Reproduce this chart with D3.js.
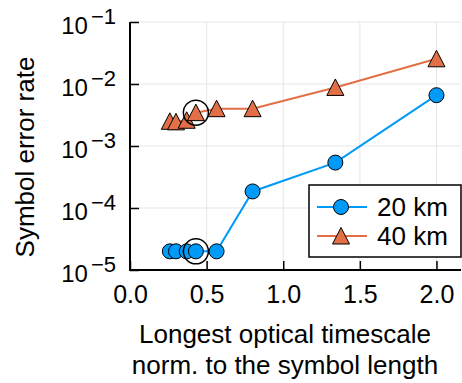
<!DOCTYPE html>
<html>
<head>
<meta charset="utf-8">
<script src="https://cdn.jsdelivr.net/npm/d3@7"></script>
<style>
  body { margin: 0; background: #fff; }
  svg { display: block; font-family: "Liberation Sans", Arial, sans-serif; }
</style>
</head>
<body>
<div id="chart"></div>
<script>
// data
const xVals = [0.26, 0.30, 0.37, 0.43, 0.565, 0.80, 1.34, 2.0];
const ser20 = [2.0e-5, 2.0e-5, 2.0e-5, 2.0e-5, 2.0e-5, 1.85e-4, 5.4e-4, 6.6e-3];
const ser40 = [2.5e-3, 2.45e-3, 2.6e-3, 3.45e-3, 4.0e-3, 4.0e-3, 8.8e-3, 2.55e-2];
const seriesNames = ['20 km', '40 km'];
const xTicks = [0.0, 0.5, 1.0, 1.5, 2.0];
const yExps = [-1, -2, -3, -4, -5];
const highlightX = [0.43, 0.43];
const highlightY = [2.0e-5, 3.45e-3];

const width = 462, height = 383;
const dims = { left: 130, right: 461, top: 22, bottom: 270 };

const svg = d3.select('#chart').append('svg')
    .attr('width', width)
    .attr('height', height);

const xScale = d3.scaleLinear()
    .domain([0, 2.16])
    .range([dims.left, dims.right]);

const yScale = d3.scaleLog()
    .domain([1e-5, 1e-1])
    .range([dims.bottom, dims.top]);

// grid
const grid = svg.append('g');
xTicks.filter(d => d > 0).forEach(t => {
    grid.append('line')
        .attr('x1', xScale(t)).attr('x2', xScale(t))
        .attr('y1', dims.top).attr('y2', dims.bottom)
        .attr('stroke', '#e6e6e6').attr('stroke-width', 1);
});
yExps.forEach(e => {
    grid.append('line')
        .attr('x1', dims.left).attr('x2', dims.right)
        .attr('y1', yScale(Math.pow(10, e))).attr('y2', yScale(Math.pow(10, e)))
        .attr('stroke', '#e6e6e6').attr('stroke-width', 1);
});

// axes
let xAxisGenerator = d3.axisBottom(xScale)
    .tickValues(xTicks)
    .tickSize(-9)
    .tickFormat(d3.format('.1f'));

let xAxis = svg.append('g')
    .attr('transform', `translate(0,${dims.bottom})`)
    .call(xAxisGenerator);
xAxis.select('.domain').remove();
xAxis.selectAll('.tick line').attr('stroke', '#000').attr('stroke-width', 1.5);
xAxis.selectAll('.tick text')
    .attr('y', 33)
    .attr('dy', 0)
    .style('font-size', '25px')
    .style('font-family', '"Liberation Sans", Arial, sans-serif')
    .attr('fill', '#000');

let yAxisGenerator = d3.axisLeft(yScale)
    .tickValues(yExps.map(e => Math.pow(10, e)))
    .tickSize(-9)
    .tickFormat('');

let yAxis = svg.append('g')
    .attr('transform', `translate(${dims.left},0)`)
    .call(yAxisGenerator);
yAxis.select('.domain').remove();
yAxis.selectAll('.tick line').attr('stroke', '#000').attr('stroke-width', 1.5);

// y tick labels as 10^n
yExps.forEach(e => {
    const t = svg.append('text')
        .attr('x', 116)
        .attr('y', yScale(Math.pow(10, e)) + 12)
        .attr('text-anchor', 'end')
        .style('font-size', '24px')
        .attr('fill', '#000');
    t.append('tspan').text('10');
    t.append('tspan')
        .attr('dy', -10)
        .attr('dx', 3)
        .style('font-size', '22px')
        .text('\u2212' + Math.abs(e));
});

// spines
svg.append('line')
    .attr('x1', dims.left).attr('x2', dims.left)
    .attr('y1', dims.top).attr('y2', dims.bottom + 1)
    .attr('stroke', '#000').attr('stroke-width', 2);
svg.append('line')
    .attr('x1', dims.left - 1).attr('x2', dims.right)
    .attr('y1', dims.bottom).attr('y2', dims.bottom)
    .attr('stroke', '#000').attr('stroke-width', 2);

// axis labels
svg.append('text')
    .attr('transform', `translate(34,157) rotate(-90)`)
    .attr('text-anchor', 'middle')
    .style('font-size', '26px')
    .text('Symbol error rate');

svg.append('text')
    .attr('x', 285).attr('y', 343)
    .attr('text-anchor', 'middle')
    .style('font-size', '26px')
    .text('Longest optical timescale');
svg.append('text')
    .attr('x', 285).attr('y', 374)
    .attr('text-anchor', 'middle')
    .style('font-size', '26px')
    .text('norm. to the symbol length');

// series
const colors = ['#009af9', '#e26f46'];
// upward triangle, a bit taller than equilateral
const triPath = 'M0,-8.5L8.5,8L-8.5,8Z';

const lineGen = d3.line()
    .x(d => xScale(d[0]))
    .y(d => yScale(d[1]));

const s20 = xVals.map((x, i) => [x, ser20[i]]);
const s40 = xVals.map((x, i) => [x, ser40[i]]);

svg.append('path')
    .attr('d', lineGen(s20))
    .attr('fill', 'none')
    .attr('stroke', colors[0])
    .attr('stroke-width', 2);
svg.append('g').selectAll('circle')
    .data(s20)
    .join('circle')
    .attr('cx', d => xScale(d[0]))
    .attr('cy', d => yScale(d[1]))
    .attr('r', 7.5)
    .attr('fill', colors[0])
    .attr('stroke', '#000')
    .attr('stroke-width', 1);

svg.append('path')
    .attr('d', lineGen(s40))
    .attr('fill', 'none')
    .attr('stroke', colors[1])
    .attr('stroke-width', 2);
svg.append('g').selectAll('path')
    .data(s40)
    .join('path')
    .attr('d', triPath)
    .attr('transform', d => `translate(${xScale(d[0])},${yScale(d[1])})`)
    .attr('fill', colors[1])
    .attr('stroke', '#000')
    .attr('stroke-width', 1);

// highlight rings
highlightX.forEach((x, i) => {
    svg.append('circle')
        .attr('cx', xScale(x))
        .attr('cy', yScale(highlightY[i]))
        .attr('r', 12.5)
        .attr('fill', 'none')
        .attr('stroke', '#000')
        .attr('stroke-width', 1.5);
});

// legend
const legend = svg.append('g');
legend.append('rect')
    .attr('x', 309).attr('y', 185)
    .attr('width', 152).attr('height', 72)
    .attr('fill', '#fff')
    .attr('stroke', '#000')
    .attr('stroke-width', 1.5);

seriesNames.forEach((name, i) => {
    const y = 207 + i * 29;
    legend.append('line')
        .attr('x1', 317).attr('x2', 367)
        .attr('y1', y).attr('y2', y)
        .attr('stroke', colors[i])
        .attr('stroke-width', 2);
    if (i === 0) {
        legend.append('circle')
            .attr('cx', 341).attr('cy', y).attr('r', 7.5)
            .attr('fill', colors[i]).attr('stroke', '#000').attr('stroke-width', 1);
    } else {
        legend.append('path')
            .attr('d', triPath)
            .attr('transform', `translate(341,${y})`)
            .attr('fill', colors[i]).attr('stroke', '#000').attr('stroke-width', 1);
    }
    legend.append('text')
        .attr('x', 377).attr('y', y + 9)
        .style('font-size', '26px')
        .text(name);
});
</script>
</body>
</html>
